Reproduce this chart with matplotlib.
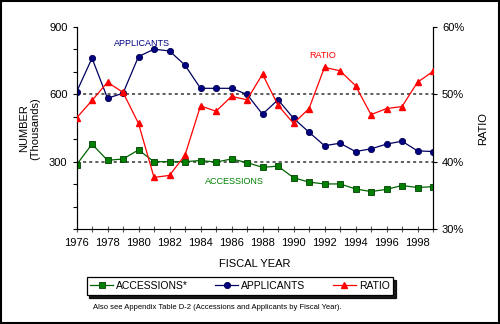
import matplotlib
matplotlib.use("Agg")
import matplotlib.pyplot as plt
from matplotlib.ticker import MultipleLocator, FuncFormatter
from matplotlib.patches import Rectangle

years = list(range(1976, 2000))
# thousands
applicants = [610, 761, 583, 605, 768, 801, 793, 730, 627, 627, 627, 600,
              512, 576, 494, 432, 372, 383, 346, 358, 379, 392, 349, 346]
accessions = [287, 379, 307, 313, 353, 301, 301, 301, 306, 299, 313, 297,
              276, 281, 230, 210, 202, 202, 180, 168, 178, 195, 186, 190]
# percent
ratio = [46.5, 49.1, 51.8, 50.3, 45.7, 37.7, 38.0, 41.0, 48.3, 47.5, 49.7, 49.2,
         53.0, 48.4, 45.7, 47.9, 54.0, 53.5, 51.3, 47.0, 47.9, 48.2, 51.8, 53.4]

plt.rcParams['font.family'] = ['Liberation Sans', 'DejaVu Sans']

fig = plt.figure(figsize=(5, 3.24), dpi=100)
ax = fig.add_axes([0.153, 0.292, 0.713, 0.625])
ax2 = ax.twinx()

# dotted reference lines
for v in [300, 600]:
    ax.axhline(v, color='#333333', ls=(0, (2, 2)), lw=1.1, zorder=1)

acc_line, = ax.plot(years, accessions, color='#006400', lw=0.9, marker='s', ms=4.5,
                    mfc='#008000', mec='#004000', mew=0.6, label='ACCESSIONS*', zorder=3)
app_line, = ax.plot(years, applicants, color='#000060', lw=0.9, marker='o', ms=4.5,
                    mfc='#000080', mec='#000050', mew=0.6, label='APPLICANTS', zorder=3)
rat_line, = ax2.plot(years, ratio, color='#FF0000', lw=0.9, marker='^', ms=5,
                     mfc='#FF0000', mec='#FF0000', label='RATIO', zorder=3)

ax.set_xlim(1976, 1999)
ax.set_ylim(0, 900)
ax2.set_ylim(30, 60)

ax.xaxis.set_major_locator(MultipleLocator(2))
ax.xaxis.set_minor_locator(MultipleLocator(1))
ax.yaxis.set_major_locator(MultipleLocator(300))
ax.yaxis.set_minor_locator(MultipleLocator(100))
ax.yaxis.set_major_formatter(FuncFormatter(lambda v, p: '' if v == 0 else f'{int(v)}'))
ax2.yaxis.set_major_locator(MultipleLocator(10))
ax2.yaxis.set_major_formatter(FuncFormatter(lambda v, p: f'{int(v)}%'))

for a in (ax, ax2):
    a.spines['top'].set_visible(False)
    a.tick_params(labelsize=8, length=3, width=0.8, color='black')
    a.tick_params(which='minor', length=3, width=0.8)
ax.spines['bottom'].set_color('#888888')
ax.tick_params(axis='x', which='both', direction='inout', length=4, colors='#555555',
               labelcolor='black', pad=4)

ax.set_ylabel('NUMBER\n(Thousands)', fontsize=8, labelpad=6)
ax2.set_ylabel('RATIO', fontsize=8, labelpad=10)
ax.set_xlabel('FISCAL YEAR', fontsize=8, labelpad=8)

ax.text(1980.2, 828, 'APPLICANTS', color='#000080', fontsize=6.5, ha='center', va='center')
ax2.text(1991.9, 55.7, 'RATIO', color='#FF0000', fontsize=6.5, ha='center', va='center')
ax.text(1986.2, 214, 'ACCESSIONS', color='#008000', fontsize=6.5, ha='center', va='center')

leg = fig.legend(handles=[acc_line, app_line, rat_line], loc='center',
                 bbox_to_anchor=(0.48, 0.117), ncol=3, fontsize=7.5,
                 frameon=True, fancybox=False, shadow={'color': 'black', 'alpha': 0.9},
                 edgecolor='black', handlelength=2.2, columnspacing=2.6,
                 borderpad=0.35, handletextpad=0.3)
leg.get_frame().set_linewidth(0.9)

fig.text(0.186, 0.05, 'Also see Appendix Table D-2 (Accessions and Applicants by Fiscal Year).',
         fontsize=5.5, ha='left', va='center')

fig.patches.append(Rectangle((0.002, 0.003), 0.995, 0.993, transform=fig.transFigure,
                             fill=False, edgecolor='black', lw=1.5))

fig.savefig('out.png', dpi=100)
